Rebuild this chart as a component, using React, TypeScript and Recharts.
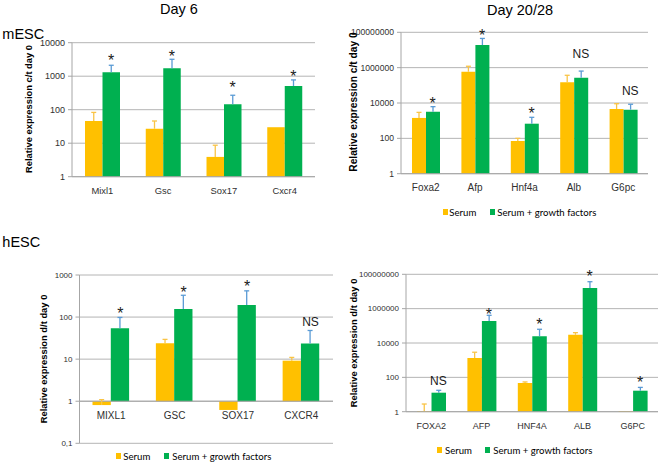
import React from 'react';
import { ComposedChart, Bar, XAxis, YAxis, CartesianGrid, ErrorBar, Scatter, ReferenceLine } from 'recharts';

const FONT = '"Liberation Sans", Arial, Helvetica, sans-serif';
const LEGEND_FONT = 'Lato, "Open Sans", sans-serif';
const YELLOW = '#FFC000';
const GREEN = '#00B050';
const YELLOW_ERR = '#F9C446';
const GREEN_ERR = '#5B9BD5';
const GRID = '#B4B4B4';
const AXIS = '#A6A6A6';
const TEXT = '#303030';
const AXIS_CROSS = 1;

// ---- Panel 1: mESC, Day 6 ----
const mCats6 = ['Mixl1', 'Gsc', 'Sox17', 'Cxcr4'];
const mSerum6 = [46, 27, 3.9, 30];
const mSerum6ErrTop = [83, 46, 8.7, null];
const mGF6 = [1320, 1730, 145, 510];
const mGF6ErrTop = [2120, 3200, 270, 775];
const mSig6 = ['*', '*', '*', '*'];
const mSigPos6 = [1980, 2600, 318, 660];
const yTicks1 = [1, 10, 100, 1000, 10000];

// ---- Panel 2: mESC, Day 20/28 ----
const mCats20 = ['Foxa2', 'Afp', 'Hnf4a', 'Alb', 'G6pc'];
const mSerum20 = [1430, 590000, 71, 150000, 4600];
const mSerum20ErrTop = [2950, 1200000, 100, 370000, 9100];
const mGF20 = [3200, 19000000, 675, 270000, 4200];
const mGF20ErrTop = [6200, 45000000, 1550, 640000, 8500];
const mSig20 = ['*', '*', '*', 'NS', 'NS'];
const mSigPos20 = [4600, 33000000, 1240, 3500000, 27000];
const yTicks2 = [1, 100, 10000, 1000000, 100000000];

// ---- Panel 3: hESC, Day 6 ----
const hCats6 = ['MIXL1', 'GSC', 'SOX17', 'CXCR4'];
const hSerum6 = [0.81, 24, 0.62, 9.2];
const hSerum6ErrTop = [1.09, 29.5, null, 11];
const hGF6 = [54, 155, 193, 23.7];
const hGF6ErrTop = [98, 330, 420, 48];
const hSig6 = ['*', '*', '*', 'NS'];
const hSigPos6 = [89, 277, 387, 60];
const yTicks3 = [0.1, 1, 10, 100, 1000];
const yTickLabels3 = ['0,1', '1', '10', '100', '1000'];

// ---- Panel 4: hESC, Day 20/28 ----
const hCats20 = ['FOXA2', 'AFP', 'HNF4A', 'ALB', 'G6PC'];
const hSerum20 = [1.1, 1340, 47, 30000, 1.1];
const hSerum20ErrTop = [2.8, 2900, 54, 40000, null];
const hGF20 = [12.8, 190000, 25000, 16000000, 16.7];
const hGF20ErrTop = [17.6, 410000, 63000, 37000000, 26];
const hSig20 = ['NS', '*', '*', '*', '*'];
const hSigPos20 = [34, 230000, 60000, 34000000, 25];
const yTicks4 = [1, 100, 10000, 1000000, 100000000];

const legendLabels = ['Serum', 'Serum + growth factors'];

function buildRows(cats, serum, serumErrTop, gf, gfErrTop, sig, sigPos) {
  return cats.map((c, i) => ({
    name: c,
    serum: serum[i],
    serumErr: serumErrTop[i] == null ? null : [0, serumErrTop[i] - serum[i]],
    gf: gf[i],
    gfErr: gfErrTop[i] == null ? null : [0, gfErrTop[i] - gf[i]],
    sig: sig[i],
    sigPos: sigPos[i],
  }));
}

type PanelProps = {
  rows: any[];
  left: number; top: number; width: number; height: number;
  margin: { top: number; right: number; bottom: number; left: number };
  yAxisWidth: number;
  domain: [number, number];
  ticks: number[];
  tickLabels?: string[];
  barSize: number;
  yTickFont: number;
  xTickFont: number;
  liftX?: number;
};

function Panel(p: PanelProps) {
  const fmt = (v: number) => {
    if (p.tickLabels) {
      const i = p.ticks.indexOf(v);
      if (i >= 0) return p.tickLabels[i];
    }
    return String(v);
  };
  const sigShape = (s: any) => {
    const txt = s.payload.sig;
    const isStar = txt === '*';
    return (
      <text
        x={s.cx + p.barSize / 2}
        y={s.cy}
        textAnchor="middle"
        fontFamily={FONT}
        fontSize={isStar ? 16 : 12}
        fill="#1a1a1a"
      >
        {txt}
      </text>
    );
  };
  const liftedTick = (t: any) => (
    <text
      x={t.x}
      y={t.y - (p.liftX || 0)}
      dy="0.71em"
      textAnchor="middle"
      fill={TEXT}
      fontSize={p.xTickFont}
      fontFamily={FONT}
    >
      {t.payload.value}
    </text>
  );
  return (
    <div style={{ position: 'absolute', left: p.left, top: p.top }}>
      <ComposedChart
        width={p.width}
        height={p.height}
        data={p.rows}
        margin={p.margin}
        barGap={0}
      >
        <CartesianGrid vertical={false} stroke={GRID} strokeWidth={1} />
        <XAxis
          dataKey="name"
          type="category"
          height={20}
          axisLine={p.liftX ? false : { stroke: AXIS }}
          tickLine={false}
          tickSize={0}
          tickMargin={10.5}
          tick={p.liftX ? liftedTick : { fill: TEXT, fontSize: p.xTickFont, fontFamily: FONT }}
          interval={0}
        />
        <YAxis
          type="number"
          scale="log"
          domain={p.domain}
          ticks={p.ticks}
          tickFormatter={fmt}
          width={p.yAxisWidth}
          axisLine={{ stroke: AXIS }}
          tickLine={{ stroke: AXIS }}
          tickSize={4}
          tickMargin={3}
          interval={0}
          tick={{ fill: TEXT, fontSize: p.yTickFont, fontFamily: FONT }}
        />
        {p.liftX ? <ReferenceLine y={AXIS_CROSS} stroke={AXIS} strokeWidth={1} /> : null}
        <Bar
          dataKey={(d: any) => [AXIS_CROSS, d.serum]}
          fill={YELLOW}
          barSize={p.barSize}
          isAnimationActive={false}
        >
          <ErrorBar dataKey="serumErr" width={2.5} stroke={YELLOW_ERR} strokeWidth={1.3} direction="y" isAnimationActive={false} />
        </Bar>
        <Bar
          dataKey={(d: any) => [AXIS_CROSS, d.gf]}
          fill={GREEN}
          barSize={p.barSize}
          isAnimationActive={false}
        >
          <ErrorBar dataKey="gfErr" width={2.5} stroke={GREEN_ERR} strokeWidth={1.3} direction="y" isAnimationActive={false} />
        </Bar>
        <Scatter dataKey="sigPos" shape={sigShape} isAnimationActive={false} legendType="none" />
      </ComposedChart>
    </div>
  );
}

function Label(props: { text: string; x: number; y: number; size: number; bold?: boolean; rotate?: boolean; font?: string }) {
  return (
    <div
      style={{
        position: 'absolute',
        left: props.x,
        top: props.y,
        transform: `translate(-50%, -50%)${props.rotate ? ' rotate(-90deg)' : ''}`,
        fontFamily: props.font || FONT,
        fontSize: props.size,
        fontWeight: props.bold ? 700 : 400,
        whiteSpace: 'nowrap',
        color: '#000',
        lineHeight: 'normal',
      }}
    >
      {props.text}
    </div>
  );
}

function Legend2(props: { y: number; sq1: number; tx1: number; sq2: number; tx2: number }) {
  const sq = (x: number, c: string) => (
    <div style={{ position: 'absolute', left: x, top: props.y - 2.7, width: 5, height: 5.4, background: c }} />
  );
  const tx = (x: number, t: string) => (
    <div
      style={{
        position: 'absolute',
        left: x,
        top: props.y,
        transform: 'translateY(-50%)',
        fontFamily: LEGEND_FONT,
        fontSize: 9.6,
        color: '#000',
        whiteSpace: 'nowrap',
        lineHeight: 'normal',
      }}
    >
      {t}
    </div>
  );
  return (
    <>
      {sq(props.sq1, YELLOW)}
      {tx(props.tx1, legendLabels[0])}
      {sq(props.sq2, GREEN)}
      {tx(props.tx2, legendLabels[1])}
    </>
  );
}

export default function App() {
  const rows1 = buildRows(mCats6, mSerum6, mSerum6ErrTop, mGF6, mGF6ErrTop, mSig6, mSigPos6);
  const rows2 = buildRows(mCats20, mSerum20, mSerum20ErrTop, mGF20, mGF20ErrTop, mSig20, mSigPos20);
  const rows3 = buildRows(hCats6, hSerum6, hSerum6ErrTop, hGF6, hGF6ErrTop, hSig6, hSigPos6);
  const rows4 = buildRows(hCats20, hSerum20, hSerum20ErrTop, hGF20, hGF20ErrTop, hSig20, hSigPos20);
  return (
    <div
      className="rc"
      style={{ position: 'absolute', left: 0, top: 0, width: 662, height: 464, background: '#fff', overflow: 'hidden' }}
    >
      <style>{'.rc .recharts-errorBar line:nth-of-type(3){display:none}'}</style>
      <Panel
        rows={rows1}
        left={0} top={0} width={330} height={200}
        margin={{ top: 42.7, right: 15, bottom: 3.3, left: 0 }}
        yAxisWidth={72}
        domain={[1, 10000]}
        ticks={yTicks1}
        barSize={17.5}
        yTickFont={9}
        xTickFont={9.4}
      />
      <Panel
        rows={rows2}
        left={330} top={0} width={332} height={200}
        margin={{ top: 32.3, right: 14, bottom: 6.3, left: 0 }}
        yAxisWidth={71}
        domain={[1, 100000000]}
        ticks={yTicks2}
        barSize={14}
        yTickFont={8.6}
        xTickFont={10}
      />
      <Panel
        rows={rows3}
        left={0} top={230} width={340} height={234}
        margin={{ top: 45, right: 7, bottom: 0.7, left: 0 }}
        yAxisWidth={79.5}
        domain={[0.1, 1000]}
        ticks={yTicks3}
        tickLabels={yTickLabels3}
        barSize={18.3}
        yTickFont={8}
        xTickFont={10}
        liftX={42.1}
      />
      <Panel
        rows={rows4}
        left={330} top={230} width={332} height={234}
        margin={{ top: 44.3, right: 4, bottom: 32.3, left: 0 }}
        yAxisWidth={76}
        domain={[1, 100000000]}
        ticks={yTicks4}
        barSize={14.5}
        yTickFont={8}
        xTickFont={9}
      />

      <Label text="Day 6" x={179} y={9} size={14.5} />
      <Label text="Day 20/28" x={520} y={9.5} size={14.5} />
      <Label text="mESC" x={23.3} y={34} size={14.5} />
      <Label text="hESC" x={21.3} y={241.5} size={14.5} />

      <Label text="Relative expression c/t day 0" x={28.3} y={109} size={9.4} bold rotate />
      <Label text="Relative expression c/t day 0" x={352.5} y={101.7} size={10.2} bold rotate />
      <Label text="Relative expression d/t day 0" x={42.5} y={359} size={9.4} bold rotate />
      <Label text="Relative expression d/t day 0" x={352.5} y={342.5} size={9.4} bold rotate />

      <Legend2 y={212} sq1={442.7} tx1={449.3} sq2={490} tx2={497.3} />
      <Legend2 y={456} sq1={116} tx1={123.3} sq2={164.3} tx2={172.3} />
      <Legend2 y={450} sq1={436.7} tx1={445} sq2={485} tx2={493.3} />
    </div>
  );
}
